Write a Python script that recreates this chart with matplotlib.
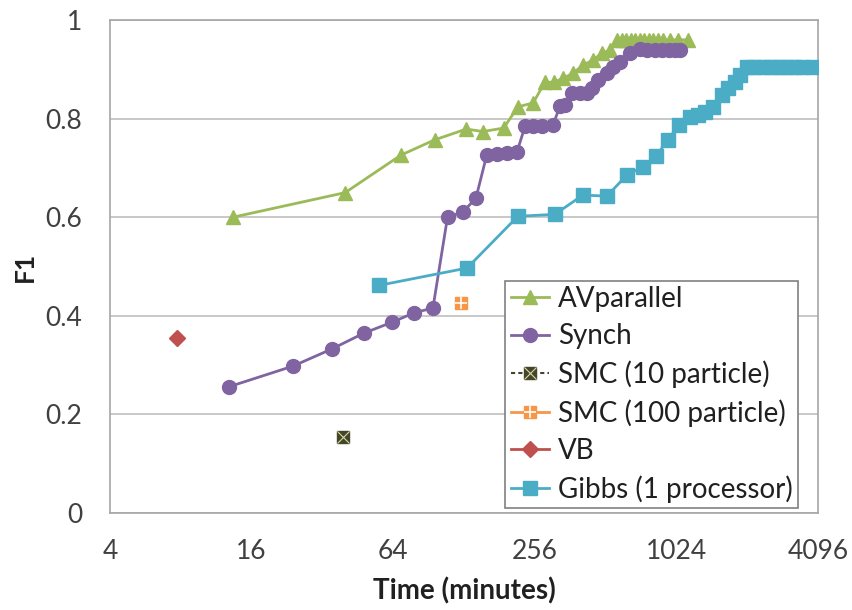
import matplotlib
matplotlib.use("Agg")
import matplotlib.pyplot as plt
from matplotlib.lines import Line2D
from matplotlib.legend_handler import HandlerTuple

plt.rcParams['font.family'] = ['Lato', 'DejaVu Sans']

# AVparallel
av_x = [13.3, 40, 69, 96, 131, 154, 189, 217, 252, 283, 309, 338, 372, 411, 453,
        494, 534, 572, 600, 628, 656, 686, 716, 748, 782, 818, 856, 896, 960, 1040, 1144]
av_y = [0.60, 0.65, 0.726, 0.757, 0.779, 0.774, 0.781, 0.824, 0.832, 0.874, 0.874,
        0.882, 0.892, 0.909, 0.919, 0.933, 0.939, 0.96, 0.96, 0.96, 0.96, 0.96, 0.96,
        0.96, 0.96, 0.96, 0.96, 0.96, 0.96, 0.96, 0.96]

# Synch
sy_x = [12.8, 24, 35.2, 48.1, 63.3, 78.5, 94.5, 109, 127, 144, 160, 177, 195, 215,
        233, 252, 275, 306, 328, 345, 368, 398, 427, 449, 474, 518, 550, 589, 650,
        718, 770, 830, 890, 950, 1010, 1060]
sy_y = [0.256, 0.298, 0.333, 0.365, 0.387, 0.406, 0.416, 0.600, 0.611, 0.639, 0.726,
        0.728, 0.730, 0.732, 0.785, 0.785, 0.785, 0.787, 0.826, 0.828, 0.852, 0.852,
        0.852, 0.862, 0.878, 0.892, 0.905, 0.915, 0.933, 0.941, 0.94, 0.94, 0.94,
        0.94, 0.94, 0.94]

# Gibbs (1 processor)
gb_x = [56, 132, 217, 312, 410, 519, 632, 738, 840, 942, 1050, 1170, 1268, 1350,
        1466, 1600, 1700, 1820, 1910, 2048, 2200, 2400, 2600, 2800, 3000, 3250, 3500, 3900]
gb_y = [0.462, 0.497, 0.602, 0.606, 0.645, 0.643, 0.686, 0.702, 0.724, 0.757, 0.787,
        0.803, 0.807, 0.813, 0.824, 0.848, 0.862, 0.874, 0.888, 0.905, 0.905, 0.905,
        0.905, 0.905, 0.905, 0.905, 0.905, 0.905]

# single points
smc10_x, smc10_y = [39], [0.155]
smc100_x, smc100_y = [125], [0.427]
vb_x, vb_y = [7.7], [0.355]

green = '#9BBB59'
purple = '#8064A2'
cyan = '#4BACC6'
orange = '#F79646'
red = '#C0504D'
olive = '#45452A'

fig = plt.figure(figsize=(8.52, 6.10), dpi=100)
ax = fig.add_axes([0.129, 0.159, 0.831, 0.808])

ax.plot(av_x, av_y, color=green, lw=2, marker='^', ms=10, zorder=3)
ax.plot(sy_x, sy_y, color=purple, lw=2, marker='o', ms=10, zorder=3)
ax.plot(gb_x, gb_y, color=cyan, lw=2, marker='s', ms=10, zorder=3)
ax.plot(smc10_x, smc10_y, ls='none', marker='s', ms=9, color=olive, zorder=4)
ax.plot(smc10_x, smc10_y, ls='none', marker='x', ms=8, mew=0.8, color='#D8D8A8', zorder=5)
ax.plot(smc100_x, smc100_y, ls='none', marker='s', ms=9, color=orange, zorder=4)
ax.plot(smc100_x, smc100_y, ls='none', marker='+', ms=9, mew=1.2, color='white', zorder=5)
ax.plot(vb_x, vb_y, ls='none', marker='D', ms=8, color=red, zorder=4)

ax.set_xscale('log', base=2)
ax.set_xlim(4, 4096)
ax.set_ylim(0, 1)
ax.set_xticks([4, 16, 64, 256, 1024, 4096])
ax.set_xticklabels(['4', '16', '64', '256', '1024', '4096'])
ax.minorticks_off()
ax.set_yticks([0, 0.2, 0.4, 0.6, 0.8, 1])
ax.set_yticklabels(['0', '0.2', '0.4', '0.6', '0.8', '1'])
ax.tick_params(length=0, labelsize=19, colors='#404040', labelcolor='#404040')
ax.tick_params(axis='x', pad=19)
ax.tick_params(axis='y', pad=20)
ax.grid(axis='y', color='#BFBFBF', lw=1.2)
ax.set_axisbelow(True)
for s in ax.spines.values():
    s.set_color('#A6A6A6')
    s.set_linewidth(1.2)

ax.set_xlabel('Time (minutes)', fontsize=20, fontweight='bold', color='#202020', labelpad=9)
ax.set_ylabel('F1', fontsize=19, fontweight='bold', color='#202020', labelpad=6)

h_av = Line2D([], [], color=green, lw=2, marker='^', ms=10)
h_sy = Line2D([], [], color=purple, lw=2, marker='o', ms=10)
h_s10 = (Line2D([], [], color=olive, lw=1.5, ls=(0, (2, 1.5)), marker='s', ms=9),
         Line2D([], [], ls='none', marker='x', ms=8, mew=0.8, color='#D8D8A8'))
h_s100 = (Line2D([], [], color=orange, lw=2, marker='s', ms=9),
          Line2D([], [], ls='none', marker='+', ms=9, mew=1.2, color='white'))
h_vb = Line2D([], [], color=red, lw=2, marker='D', ms=8)
h_gb = Line2D([], [], color=cyan, lw=2, marker='s', ms=10)

leg = ax.legend([h_av, h_sy, h_s10, h_s100, h_vb, h_gb],
                ['AVparallel', 'Synch', 'SMC (10 particle)', 'SMC (100 particle)', 'VB',
                 'Gibbs (1 processor)'],
                handler_map={tuple: HandlerTuple(ndivide=1)},
                loc='lower right', bbox_to_anchor=(0.972, 0.01), fontsize=20,
                handlelength=1.4, handletextpad=0.3, labelspacing=0.4,
                borderpad=0.2, borderaxespad=0, fancybox=False, framealpha=1,
                edgecolor='#808080')
leg.get_frame().set_linewidth(1.2)
for t in leg.get_texts():
    t.set_color('#202020')

fig.savefig('out.png', dpi=100)
